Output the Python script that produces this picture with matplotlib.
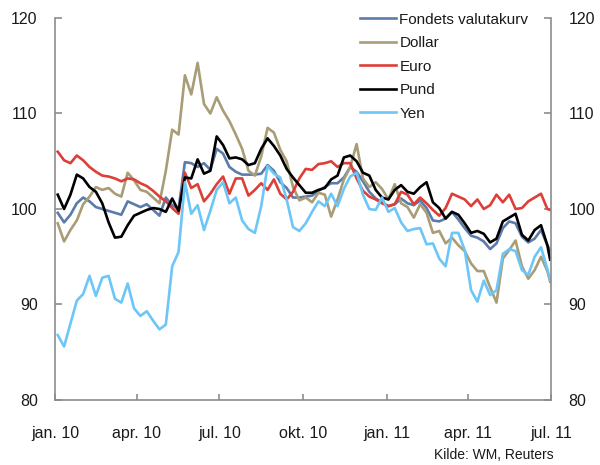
import matplotlib
matplotlib.use("Agg")
import matplotlib.pyplot as plt
import pandas as pd

plt.rcParams['font.family'] = ['Liberation Sans', 'DejaVu Sans']

# weekly observations (Mondays from 4 Jan 2010) plus the final day 30 Jun 2011
dates = list(pd.date_range('2010-01-04', periods=78, freq='7D')) + [pd.Timestamp('2011-06-30')]

fondets = [99.6, 98.6, 99.4, 100.6, 101.2, 100.8, 100.2, 100.0, 99.8, 99.6,
           99.4, 100.8, 100.5, 100.2, 100.5, 99.9, 99.3, 101.2, 100.4, 100.0,
           104.9, 104.8, 104.4, 104.8, 104.1, 106.3, 105.8, 104.4, 103.9, 103.6,
           103.6, 103.6, 103.7, 104.6, 104.0, 102.8, 102.2, 101.2, 101.2, 101.3,
           101.4, 101.9, 102.3, 102.7, 102.7, 103.3, 104.4, 103.9, 102.9, 101.8,
           101.1, 100.7, 100.3, 100.5, 101.1, 100.6, 100.4, 100.9, 100.1, 98.8,
           98.7, 99.0, 99.7, 98.9, 98.0, 97.2, 97.0, 96.6, 95.8, 96.4,
           98.0, 98.7, 98.5, 97.1, 96.5, 96.9, 97.8, 96.2, 95.7]

dollar = [98.5, 96.6, 97.8, 98.8, 100.5, 101.3, 102.3, 102.0, 102.2, 101.6,
          101.3, 103.8, 103.0, 102.0, 101.8, 101.2, 100.6, 104.0, 108.3, 107.8,
          114.0, 112.0, 115.3, 111.0, 110.0, 111.7, 110.3, 109.2, 107.8, 106.3,
          104.0, 103.5, 105.5, 108.5, 108.0, 106.2, 105.0, 102.3, 100.9, 101.2,
          100.7, 101.7, 101.5, 99.2, 101.0, 103.1, 104.4, 106.8, 103.2, 102.3,
          102.8, 102.1, 101.0, 102.6, 100.6, 100.2, 99.1, 100.5, 99.6, 97.5,
          97.7, 96.4, 97.0, 96.2, 95.6, 94.3, 93.5, 93.5, 91.8, 90.2,
          94.8, 95.7, 96.7, 94.0, 92.7, 93.6, 95.0, 93.5, 92.4]

euro = [106.0, 105.1, 104.8, 105.6, 105.1, 104.4, 103.9, 103.5, 103.4, 103.2,
        102.9, 103.2, 103.1, 102.7, 102.4, 101.9, 101.3, 100.8, 100.1, 99.5,
        103.8, 102.2, 102.6, 100.8, 101.6, 102.6, 103.4, 101.6, 103.2, 103.2,
        101.4, 102.0, 102.7, 102.0, 103.1, 101.6, 101.0, 101.8, 103.2, 104.2,
        104.1, 104.7, 104.8, 105.0, 104.4, 104.8, 104.8, 103.2, 101.9, 101.3,
        101.0, 100.6, 100.3, 100.5, 101.8, 101.5, 100.5, 101.2, 100.6, 99.9,
        99.3, 100.1, 101.6, 101.3, 101.0, 100.3, 101.0, 100.0, 100.4, 101.5,
        100.7, 101.5, 100.0, 100.1, 100.8, 101.2, 101.6, 100.0, 99.9]

pund = [101.5, 100.0, 101.5, 103.6, 103.2, 102.3, 101.8, 100.6, 98.6, 97.0,
        97.1, 98.3, 99.3, 99.6, 99.9, 100.1, 100.0, 99.7, 101.1, 99.8,
        103.3, 103.2, 105.2, 103.7, 104.0, 107.6, 106.7, 105.3, 105.4, 105.2,
        104.6, 104.8, 106.3, 107.4, 106.6, 105.6, 104.2, 103.3, 102.5, 101.7,
        101.7, 102.0, 102.2, 103.1, 103.5, 105.4, 105.6, 105.0, 103.8, 103.5,
        102.0, 101.2, 101.0, 102.0, 102.5, 101.8, 101.6, 102.3, 102.8, 100.7,
        100.1, 99.0, 99.7, 99.4, 98.5, 97.5, 97.7, 97.4, 96.5, 96.9,
        98.7, 99.1, 99.5, 97.3, 96.7, 97.8, 98.3, 96.2, 94.7]

yen = [86.8, 85.6, 88.0, 90.4, 91.1, 93.0, 90.9, 92.8, 93.0, 90.6,
       90.2, 92.2, 89.6, 88.8, 89.3, 88.3, 87.4, 87.9, 94.0, 95.5,
       102.8, 99.5, 100.4, 97.8, 99.8, 102.0, 102.8, 100.6, 101.2, 98.8,
       97.9, 97.5, 100.3, 104.5, 103.7, 103.3, 101.0, 98.1, 97.7, 98.5,
       99.7, 100.8, 100.3, 101.6, 100.3, 102.1, 103.4, 103.8, 101.5, 100.0,
       99.9, 101.2, 99.7, 100.1, 98.6, 97.7, 97.9, 98.0, 96.3, 96.4,
       94.8, 94.0, 97.5, 97.5, 95.7, 91.5, 90.3, 92.5, 91.0, 91.5,
       95.3, 95.8, 95.6, 93.6, 93.1, 95.0, 96.0, 93.7, 92.6]

series_names = ['Fondets valutakurv', 'Dollar', 'Euro', 'Pund', 'Yen']
series_colors = ['#5b7bab', '#a89d76', '#dc3f37', '#000000', '#6cc6f7']

tick_dates = pd.to_datetime(['2010-01-01', '2010-04-01', '2010-07-01', '2010-10-01',
                             '2011-01-01', '2011-04-01', '2011-07-01'])
tick_labels = ['jan. 10', 'apr. 10', 'jul. 10', 'okt. 10', 'jan. 11', 'apr. 11', 'jul. 11']
y_ticks = [80, 90, 100, 110, 120]

fig = plt.figure(figsize=(6.0, 4.65), dpi=100)
ax = fig.add_axes([55/600, 1 - 400/465, 496/600, 382/465])

for vals, name, col in zip([fondets, dollar, euro, pund, yen], series_names, series_colors):
    ax.plot(dates, vals, color=col, lw=1.9, label=name, solid_joinstyle='round')

ax.set_xlim(tick_dates[0], tick_dates[-1])
ax.set_ylim(80, 120)
ax.set_xticks(tick_dates)
ax.set_xticklabels(tick_labels)
ax.set_yticks(y_ticks)

spine_col = '#8c8c8c'
for s in ['left', 'right', 'bottom']:
    ax.spines[s].set_color(spine_col)
    ax.spines[s].set_linewidth(1.2)
ax.spines['top'].set_visible(False)

ax.tick_params(axis='x', direction='in', length=4, width=1.2, color=spine_col,
               labelsize=11.5, pad=19, labelcolor='#1a1a1a')
ax.tick_params(axis='y', direction='in', length=5, width=1.2, color=spine_col,
               labelsize=11.5, pad=12.5, labelcolor='#1a1a1a',
               right=True, labelright=True)

leg = ax.legend(loc='upper left', bbox_to_anchor=(0.602, 1.03), frameon=False,
                fontsize=11, handlelength=2.4, handletextpad=0.2,
                labelspacing=0.62, borderaxespad=0)
for txt in leg.get_texts():
    txt.set_color('#1a1a1a')

fig.text(554/600, 1 - 455/465, 'Kilde: WM, Reuters', ha='right', va='center',
         fontsize=10, color='#1a1a1a')

fig.savefig('out.png', dpi=100)
